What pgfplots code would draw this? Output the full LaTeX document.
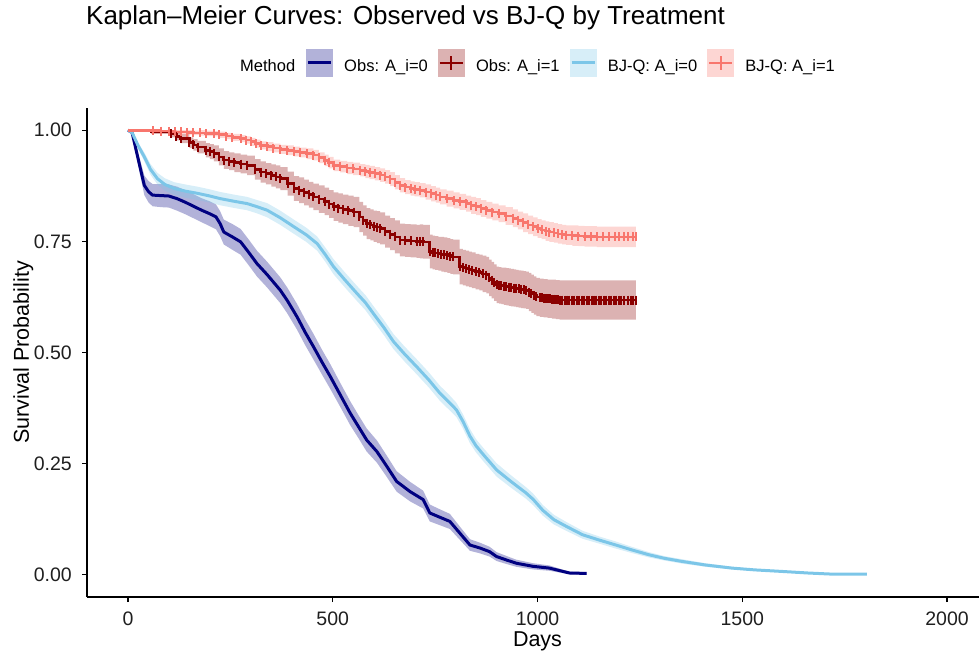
\documentclass[border=0pt]{standalone}
\usepackage{fontspec}
\setmainfont{Liberation Sans}
\usepackage{pgfplots}
\pgfplotsset{compat=1.18}
\usepackage{pgfplotstable}
\usepgfplotslibrary{fillbetween}

\definecolor{obs0}{HTML}{000080}
\definecolor{obs1}{HTML}{8B0000}
\definecolor{bjq0}{HTML}{7CC6E8}
\definecolor{bjq1}{HTML}{F8766D}

% Obs: A_i=0
\pgfplotstableread{
x y lo hi
0 1.000 1.000 1.000
10 0.995 0.993 0.997
20 0.955 0.945 0.965
30 0.915 0.898 0.932
40 0.876 0.854 0.898
50 0.862 0.838 0.886
60 0.854 0.829 0.879
80 0.853 0.827 0.879
100 0.852 0.826 0.878
120 0.846 0.819 0.873
140 0.838 0.811 0.865
160 0.829 0.802 0.856
180 0.820 0.793 0.847
200 0.812 0.784 0.840
215 0.805 0.777 0.833
225 0.790 0.762 0.818
234 0.771 0.743 0.799
255 0.760 0.731 0.789
275 0.749 0.720 0.778
295 0.725 0.696 0.754
315 0.700 0.671 0.729
340 0.675 0.646 0.704
372 0.640 0.611 0.669
389 0.617 0.588 0.646
413 0.580 0.551 0.609
433 0.545 0.516 0.574
453 0.513 0.484 0.542
474 0.478 0.450 0.506
494 0.446 0.418 0.474
520 0.402 0.375 0.429
543 0.363 0.336 0.390
563 0.333 0.307 0.359
583 0.303 0.277 0.329
608 0.277 0.252 0.302
632 0.244 0.220 0.268
656 0.210 0.187 0.233
689 0.187 0.165 0.209
721 0.169 0.149 0.189
737 0.139 0.120 0.158
760 0.130 0.112 0.148
786 0.120 0.103 0.137
810 0.094 0.079 0.109
835 0.067 0.054 0.080
860 0.060 0.048 0.072
883 0.052 0.041 0.063
900 0.041 0.031 0.051
925 0.033 0.024 0.042
948 0.026 0.018 0.034
989 0.019 0.012 0.026
1029 0.015 0.009 0.021
1060 0.008 0.004 0.012
1078 0.004 0.001 0.007
1120 0.003 0.000 0.006
}\obsA

% Obs: A_i=1
\pgfplotstableread{
x y lo hi
0 1.000 1.000 1.000
56 0.996 0.992 1.000
105 0.992 0.984 1.000
118 0.986 0.977 0.995
129 0.981 0.971 0.991
150 0.972 0.960 0.984
160 0.967 0.954 0.980
170 0.962 0.948 0.976
190 0.955 0.939 0.971
200 0.952 0.935 0.969
210 0.948 0.930 0.966
222 0.940 0.921 0.959
234 0.933 0.913 0.953
247 0.930 0.910 0.950
260 0.927 0.906 0.948
275 0.924 0.903 0.945
291 0.921 0.899 0.943
310 0.912 0.889 0.935
324 0.906 0.882 0.930
337 0.902 0.878 0.926
350 0.898 0.873 0.923
361 0.895 0.869 0.921
372 0.891 0.865 0.917
390 0.880 0.853 0.907
405 0.869 0.841 0.897
418 0.865 0.836 0.894
430 0.860 0.831 0.889
442 0.855 0.826 0.884
453 0.850 0.820 0.880
466 0.845 0.814 0.876
480 0.840 0.809 0.871
491 0.834 0.803 0.865
502 0.828 0.796 0.860
514 0.825 0.792 0.858
525 0.822 0.789 0.855
538 0.819 0.785 0.853
551 0.816 0.782 0.850
565 0.805 0.771 0.839
574 0.797 0.763 0.831
583 0.790 0.755 0.825
592 0.787 0.752 0.822
600 0.784 0.749 0.819
608 0.782 0.746 0.818
616 0.779 0.743 0.815
628 0.772 0.736 0.808
640 0.766 0.730 0.802
652 0.760 0.723 0.797
664 0.753 0.716 0.790
677 0.752 0.715 0.789
690 0.751 0.714 0.788
705 0.750 0.713 0.787
713 0.750 0.712 0.788
721 0.749 0.711 0.787
737 0.727 0.689 0.765
744 0.725 0.687 0.763
750 0.724 0.686 0.762
758 0.722 0.684 0.760
765 0.721 0.682 0.760
772 0.720 0.681 0.759
780 0.718 0.679 0.757
787 0.716 0.677 0.755
794 0.715 0.676 0.754
810 0.693 0.653 0.733
818 0.691 0.651 0.731
825 0.689 0.649 0.729
833 0.687 0.647 0.727
840 0.685 0.645 0.725
849 0.682 0.642 0.722
858 0.680 0.640 0.720
866 0.677 0.636 0.718
875 0.674 0.633 0.715
882 0.668 0.627 0.709
888 0.663 0.622 0.704
894 0.657 0.616 0.698
900 0.652 0.611 0.693
906 0.651 0.610 0.692
912 0.650 0.609 0.691
918 0.649 0.607 0.691
924 0.648 0.606 0.690
930 0.647 0.605 0.689
935 0.646 0.604 0.688
942 0.645 0.603 0.687
948 0.644 0.602 0.686
954 0.643 0.601 0.685
960 0.642 0.600 0.684
966 0.641 0.599 0.683
972 0.640 0.598 0.682
979 0.636 0.593 0.679
985 0.632 0.589 0.675
991 0.628 0.585 0.671
997 0.625 0.582 0.668
1006 0.623 0.580 0.666
1010 0.623 0.580 0.666
1015 0.622 0.579 0.665
1020 0.622 0.579 0.665
1025 0.621 0.578 0.664
1030 0.621 0.578 0.664
1035 0.620 0.576 0.664
1040 0.620 0.576 0.664
1045 0.619 0.575 0.663
1050 0.619 0.575 0.663
1054 0.618 0.574 0.662
1060 0.618 0.574 0.662
1066 0.618 0.574 0.662
1072 0.618 0.574 0.662
1078 0.618 0.574 0.662
1084 0.618 0.574 0.662
1090 0.618 0.574 0.662
1096 0.618 0.574 0.662
1102 0.618 0.574 0.662
1108 0.618 0.574 0.662
1114 0.618 0.574 0.662
1120 0.618 0.574 0.662
1126 0.618 0.574 0.662
1132 0.618 0.574 0.662
1138 0.618 0.574 0.662
1144 0.618 0.574 0.662
1150 0.618 0.574 0.662
1156 0.618 0.574 0.662
1162 0.618 0.574 0.662
1168 0.618 0.574 0.662
1174 0.618 0.574 0.662
1180 0.618 0.574 0.662
1186 0.618 0.574 0.662
1192 0.618 0.574 0.662
1198 0.618 0.574 0.662
1204 0.618 0.574 0.662
1212 0.618 0.574 0.662
1220 0.618 0.574 0.662
1228 0.618 0.574 0.662
1234 0.618 0.574 0.662
1240 0.618 0.574 0.662
}\obsB

% BJ-Q: A_i=0
\pgfplotstableread{
x y lo hi
0 1.000 1.000 1.000
10 0.995 0.993 0.997
25 0.965 0.958 0.972
40 0.940 0.930 0.950
55 0.912 0.900 0.924
72 0.891 0.878 0.904
90 0.878 0.864 0.892
113 0.869 0.855 0.883
140 0.863 0.848 0.878
170 0.858 0.843 0.873
200 0.852 0.837 0.867
226 0.846 0.831 0.861
260 0.840 0.825 0.855
291 0.835 0.820 0.850
315 0.828 0.813 0.843
340 0.820 0.804 0.836
372 0.803 0.787 0.819
405 0.783 0.767 0.799
435 0.765 0.749 0.781
462 0.745 0.729 0.761
482 0.720 0.704 0.736
502 0.693 0.676 0.710
530 0.663 0.646 0.680
559 0.633 0.616 0.650
580 0.612 0.595 0.629
599 0.588 0.571 0.605
625 0.556 0.539 0.573
648 0.525 0.508 0.542
675 0.497 0.480 0.514
705 0.468 0.451 0.485
735 0.438 0.421 0.455
762 0.408 0.391 0.425
782 0.390 0.373 0.407
802 0.371 0.355 0.387
818 0.345 0.329 0.361
835 0.312 0.296 0.328
850 0.290 0.275 0.305
868 0.270 0.255 0.285
900 0.236 0.221 0.251
935 0.210 0.196 0.224
972 0.184 0.171 0.197
989 0.170 0.157 0.183
1013 0.145 0.133 0.157
1040 0.124 0.113 0.135
1070 0.109 0.099 0.119
1110 0.090 0.081 0.099
1151 0.078 0.070 0.086
1191 0.067 0.059 0.075
1230 0.056 0.049 0.063
1272 0.045 0.039 0.051
1310 0.037 0.032 0.042
1353 0.030 0.025 0.035
1410 0.022 0.018 0.026
1475 0.015 0.012 0.018
1530 0.011 0.009 0.013
1597 0.0075 0.006 0.009
1660 0.004 0.003 0.005
1718 0.0015 0.0005 0.0025
1804 0.0015 0.0005 0.0025
}\bjqA

% BJ-Q: A_i=1
\pgfplotstableread{
x y lo hi
0 1.000 1.000 1.000
60 0.999 0.996 1.000
80 0.998 0.995 1.000
100 0.997 0.993 1.000
115 0.996 0.992 1.000
129 0.996 0.992 1.000
145 0.995 0.990 1.000
160 0.994 0.989 0.999
175 0.994 0.988 1.000
190 0.993 0.987 0.999
210 0.992 0.986 0.998
222 0.990 0.983 0.997
240 0.987 0.980 0.994
255 0.984 0.976 0.992
275 0.981 0.973 0.989
288 0.978 0.970 0.986
300 0.974 0.965 0.983
312 0.970 0.961 0.979
324 0.966 0.957 0.975
340 0.963 0.953 0.973
355 0.960 0.950 0.970
372 0.957 0.947 0.967
389 0.955 0.944 0.966
405 0.952 0.941 0.963
420 0.950 0.939 0.961
436 0.947 0.935 0.959
453 0.944 0.932 0.956
466 0.938 0.926 0.950
480 0.932 0.919 0.945
490 0.927 0.914 0.940
502 0.921 0.908 0.934
518 0.918 0.905 0.931
535 0.915 0.901 0.929
550 0.913 0.899 0.927
567 0.910 0.896 0.924
580 0.907 0.892 0.922
590 0.905 0.890 0.920
603 0.902 0.887 0.917
616 0.899 0.884 0.914
628 0.895 0.880 0.910
640 0.890 0.874 0.906
652 0.883 0.867 0.899
664 0.876 0.860 0.892
677 0.872 0.856 0.888
690 0.869 0.853 0.885
700 0.867 0.851 0.883
713 0.865 0.849 0.881
727 0.861 0.844 0.878
740 0.857 0.840 0.874
752 0.854 0.837 0.871
762 0.850 0.833 0.867
778 0.846 0.828 0.864
795 0.842 0.824 0.860
810 0.839 0.821 0.857
826 0.835 0.817 0.853
838 0.831 0.812 0.850
850 0.828 0.809 0.847
862 0.824 0.805 0.843
875 0.820 0.801 0.839
890 0.816 0.797 0.835
905 0.812 0.793 0.831
922 0.807 0.787 0.827
940 0.802 0.782 0.822
952 0.797 0.777 0.817
965 0.792 0.771 0.813
977 0.787 0.766 0.808
989 0.783 0.762 0.804
1000 0.779 0.758 0.800
1010 0.776 0.755 0.797
1020 0.773 0.751 0.795
1029 0.771 0.749 0.793
1040 0.769 0.747 0.791
1050 0.767 0.745 0.789
1060 0.765 0.743 0.787
1070 0.764 0.742 0.786
1085 0.763 0.740 0.786
1100 0.762 0.739 0.785
1115 0.761 0.738 0.784
1130 0.761 0.738 0.784
1145 0.760 0.737 0.783
1160 0.760 0.737 0.783
1175 0.760 0.737 0.783
1190 0.760 0.737 0.783
1200 0.760 0.737 0.783
1210 0.760 0.737 0.783
1220 0.760 0.737 0.783
1232 0.760 0.737 0.783
1240 0.760 0.737 0.783
}\bjqB

\newcommand{\legfont}{\fontsize{16.5}{18}\selectfont}
\newcommand{\tickfont}{\fontsize{19.5}{21}\selectfont}
\newcommand{\labfont}{\fontsize{21.5}{24}\selectfont}

\begin{document}
\begin{tikzpicture}
\begin{axis}[
    at={(87pt,56pt)}, anchor=south west,
    scale only axis, width=901pt, height=489pt,
    xmin=-100, xmax=2100, ymin=-0.05, ymax=1.05,
    axis x line*=bottom, axis y line*=left,
    axis line style={black, line width=1.2pt},
    xtick={0,500,1000,1500,2000},
    ytick={0,0.25,0.5,0.75,1},
    tick align=outside, major tick length=5pt,
    tick style={black, line width=1.2pt},
    /pgf/number format/assume math mode=true,
    /pgf/number format/1000 sep={},
    tick label style={font=\tickfont, text=black!88},
    xticklabel style={anchor=base, inner sep=0pt, yshift=-23pt},
    yticklabel style={anchor=east, inner sep=0pt, xshift=-10pt,
        /pgf/number format/.cd, fixed, fixed zerofill, precision=2},
    xlabel={Days}, ylabel={Survival Probability},
    every axis x label/.style={at={(axis description cs:0.5,-0.1002)},
        anchor=base, font=\labfont, inner sep=0pt},
    every axis y label/.style={at={(axis description cs:-0.0644,0.5)},
        rotate=90, anchor=base, font=\labfont, inner sep=0pt},
    legend columns=4,
    legend style={at={(axis description cs:0.2431,1.0924)}, anchor=west,
        draw=none, fill=none, inner sep=0pt, outer sep=0pt,
        font=\legfont,
        nodes={inner sep=0pt, anchor=base},
        /tikz/every even column/.append style={column sep=10pt}},
]
% ribbons
\addplot[name path=a0hi, draw=none, forget plot] table[x=x,y=hi]{\obsA};
\addplot[name path=a0lo, draw=none, forget plot] table[x=x,y=lo]{\obsA};
\addplot[fill=obs0, fill opacity=0.3, draw=none, forget plot] fill between[of=a0hi and a0lo];
\addplot[name path=a1hi, draw=none, const plot, forget plot] table[x=x,y=hi]{\obsB};
\addplot[name path=a1lo, draw=none, const plot, forget plot] table[x=x,y=lo]{\obsB};
\addplot[fill=obs1, fill opacity=0.3, draw=none, forget plot] fill between[of=a1hi and a1lo];
\addplot[name path=b0hi, draw=none, forget plot] table[x=x,y=hi]{\bjqA};
\addplot[name path=b0lo, draw=none, forget plot] table[x=x,y=lo]{\bjqA};
\addplot[fill=bjq0, fill opacity=0.3, draw=none, forget plot] fill between[of=b0hi and b0lo];
\addplot[name path=b1hi, draw=none, const plot, forget plot] table[x=x,y=hi]{\bjqB};
\addplot[name path=b1lo, draw=none, const plot, forget plot] table[x=x,y=lo]{\bjqB};
\addplot[fill=bjq1, fill opacity=0.3, draw=none, forget plot] fill between[of=b1hi and b1lo];
% curves
\addplot[obs0, line width=3pt, line join=round, forget plot] table[x=x,y=y]{\obsA};
\addplot[obs1, line width=2.6pt, const plot, forget plot] table[x=x,y=y]{\obsB};
\addplot[obs1, only marks, mark=|, mark size=4.5pt, mark options={line width=2pt},
    skip coords between index={0}{2}, forget plot] table[x=x,y=y]{\obsB};
\addplot[bjq0, line width=3pt, line join=round, forget plot] table[x=x,y=y]{\bjqA};
\addplot[bjq1, line width=2.6pt, const plot, forget plot] table[x=x,y=y]{\bjqB};
\addplot[bjq1, only marks, mark=|, mark size=4.5pt, mark options={line width=2pt},
    skip coords between index={0}{1}, forget plot] table[x=x,y=y]{\bjqB};
% legend
\addlegendimage{legend image code/.code={
    \fill[obs0, fill opacity=0.3, draw=none] (0pt,-5.5pt) rectangle (27pt,22.5pt);
    \draw[obs0, line width=3pt] (2pt,8.5pt) -- (25pt,8.5pt);
    \path (38pt,8.5pt);}}
\addlegendentry{Obs: A\_i=0}
\addlegendimage{legend image code/.code={
    \fill[obs1, fill opacity=0.3, draw=none] (0pt,-5.5pt) rectangle (27pt,22.5pt);
    \draw[obs1, line width=2.6pt] (2pt,8.5pt) -- (25pt,8.5pt);
    \draw[obs1, line width=2pt] (13.5pt,1.5pt) -- (13.5pt,15.5pt);
    \path (38pt,8.5pt);}}
\addlegendentry{Obs: A\_i=1}
\addlegendimage{legend image code/.code={
    \fill[bjq0, fill opacity=0.3, draw=none] (0pt,-5.5pt) rectangle (27pt,22.5pt);
    \draw[bjq0, line width=3pt] (2pt,8.5pt) -- (25pt,8.5pt);
    \path (38pt,8.5pt);}}
\addlegendentry{BJ-Q: A\_i=0}
\addlegendimage{legend image code/.code={
    \fill[bjq1, fill opacity=0.3, draw=none] (0pt,-5.5pt) rectangle (27pt,22.5pt);
    \draw[bjq1, line width=2.6pt] (2pt,8.5pt) -- (25pt,8.5pt);
    \draw[bjq1, line width=2pt] (13.5pt,1.5pt) -- (13.5pt,15.5pt);
    \path (38pt,8.5pt);}}
\addlegendentry{BJ-Q: A\_i=1}
\end{axis}
\node[anchor=base west, inner sep=0pt, font=\fontsize{26}{30}\selectfont] at (86pt,628pt)
    {Kaplan–Meier Curves: Observed vs BJ-Q by Treatment};
\node[anchor=base west, inner sep=0pt, font=\legfont] at (240pt,581.7pt) {Method};
\pgfresetboundingbox
\path[use as bounding box] (0pt,0pt) rectangle (979pt,653pt);
\end{tikzpicture}
\end{document}
